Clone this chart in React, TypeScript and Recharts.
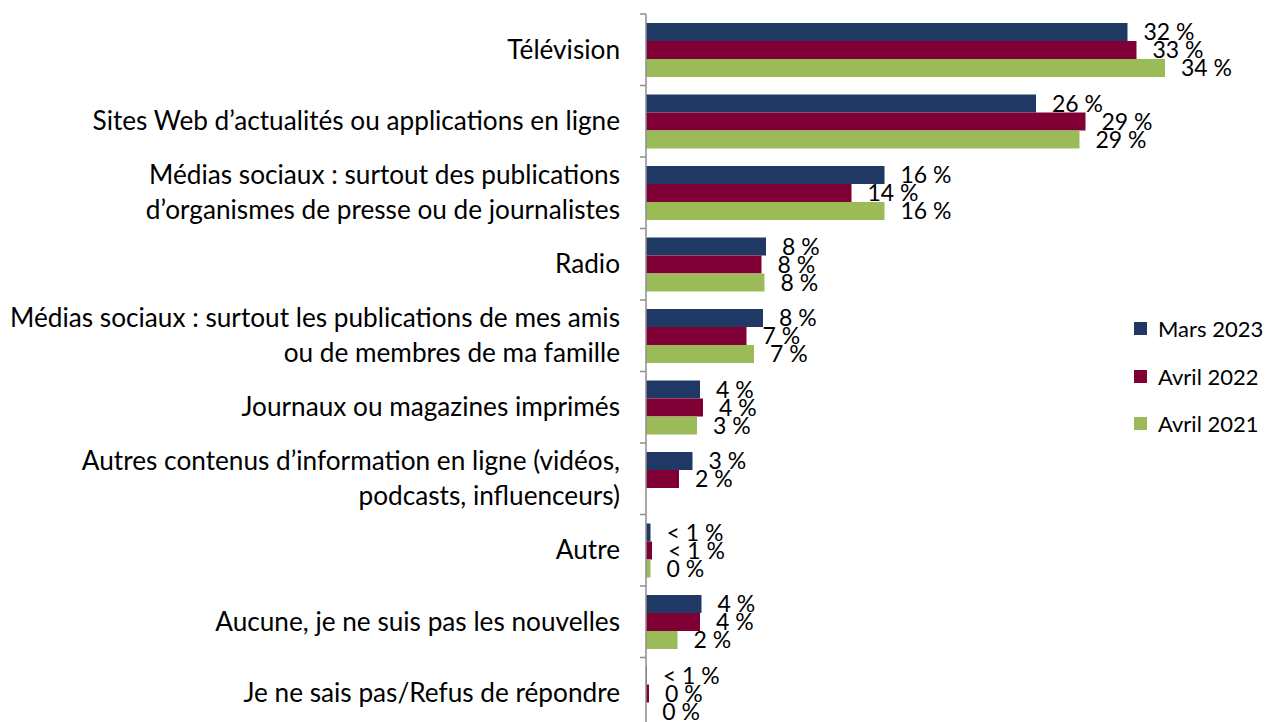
import { BarChart, Bar, XAxis, YAxis, LabelList } from "recharts";

const categories = [
    'Télévision',
    'Sites Web d’actualités ou applications en ligne',
    'Médias sociaux : surtout des publications\nd’organismes de presse ou de journalistes',
    'Radio',
    'Médias sociaux : surtout les publications de mes amis\nou de membres de ma famille',
    'Journaux ou magazines imprimés',
    'Autres contenus d’information en ligne (vidéos,\npodcasts, influenceurs)',
    'Autre',
    'Aucune, je ne suis pas les nouvelles',
    'Je ne sais pas/Refus de répondre',
];

const mars2023 = [32.1, 26.0, 15.9, 8.0, 7.8, 3.6, 3.1, 0.3, 3.7, 0.05];
const avril2022 = [32.7, 29.3, 13.7, 7.7, 6.7, 3.8, 2.2, 0.4, 3.6, 0.2];
const avril2021 = [34.6, 28.9, 15.9, 7.9, 7.2, 3.4, null, 0.3, 2.1, 0.02];

const labels2023 = ['32 %', '26 %', '16 %', '8 %', '8 %', '4 %', '3 %', '< 1 %', '4 %', '< 1 %'];
const labels2022 = ['33 %', '29 %', '14 %', '8 %', '7 %', '4 %', '2 %', '< 1 %', '4 %', '0 %'];
const labels2021 = ['34 %', '29 %', '16 %', '8 %', '7 %', '3 %', '', '0 %', '2 %', '0 %'];

const series = [
    { key: 'm2023', label: 'l2023', name: 'Mars 2023', color: '#1F3864' },
    { key: 'a2022', label: 'l2022', name: 'Avril 2022', color: '#800035' },
    { key: 'a2021', label: 'l2021', name: 'Avril 2021', color: '#9BBB59' },
];

const data = categories.map((cat, i) => ({
    cat,
    m2023: mars2023[i],
    a2022: avril2022[i],
    a2021: avril2021[i],
    l2023: labels2023[i],
    l2022: labels2022[i],
    l2021: labels2021[i],
}));

const FONT = 'Lato, "Open Sans", sans-serif';
const BAND = 71.5;

function CategoryTick(props: any) {
    const { x, y, payload } = props;
    const lines = String(payload.value).split('\n');
    const lh = 35;
    const y0 = y - ((lines.length - 1) * lh) / 2;
    return (
        <g>
            <line x1={x + 20} x2={x + 26} y1={y - BAND / 2} y2={y - BAND / 2} stroke="#8e8e8e" strokeWidth={1.5} />
            <text textAnchor="end" fontFamily={FONT} fontSize={26.2} fill="#000">
                {lines.map((l, i) => (
                    <tspan key={i} x={x} y={y0 + i * lh} dy="0.34em">{l}</tspan>
                ))}
            </text>
        </g>
    );
}

export default function App() {
    return (
        <div style={{ position: 'absolute', left: 8, top: 8, width: 1263, height: 714, overflow: 'hidden' }}>
            <BarChart
                width={1255}
                height={740}
                data={data}
                layout="vertical"
                margin={{ top: 6, right: 17, bottom: 19, left: 0 }}
                barCategoryGap="12.6%"
                barGap={0}
            >
                <XAxis type="number" domain={[0, 40]} hide />
                <YAxis
                    type="category"
                    dataKey="cat"
                    width={638}
                    tickSize={6}
                    tickMargin={20}
                    tickLine={false}
                    axisLine={{ stroke: '#8e8e8e', strokeWidth: 1.5 }}
                    tick={<CategoryTick />}
                    interval={0}
                />
                {series.map((s) => (
                    <Bar key={s.key} dataKey={s.key} name={s.name} fill={s.color} isAnimationActive={false}>
                        <LabelList
                            dataKey={s.label}
                            position="right"
                            offset={16}
                            fontFamily={FONT}
                            fontSize={23}
                            fill="#000"
                        />
                    </Bar>
                ))}
            </BarChart>
            <div style={{ position: 'absolute', left: 1126, top: 297, fontFamily: FONT, fontSize: 22, color: '#000', whiteSpace: 'nowrap' }}>
                {series.map((s) => (
                    <div key={s.key} style={{ display: 'flex', alignItems: 'center', height: 47.5 }}>
                        <span style={{ width: 13, height: 13, background: s.color, marginRight: 11, display: 'inline-block', flexShrink: 0 }} />
                        <span>{s.name}</span>
                    </div>
                ))}
            </div>
        </div>
    );
}
